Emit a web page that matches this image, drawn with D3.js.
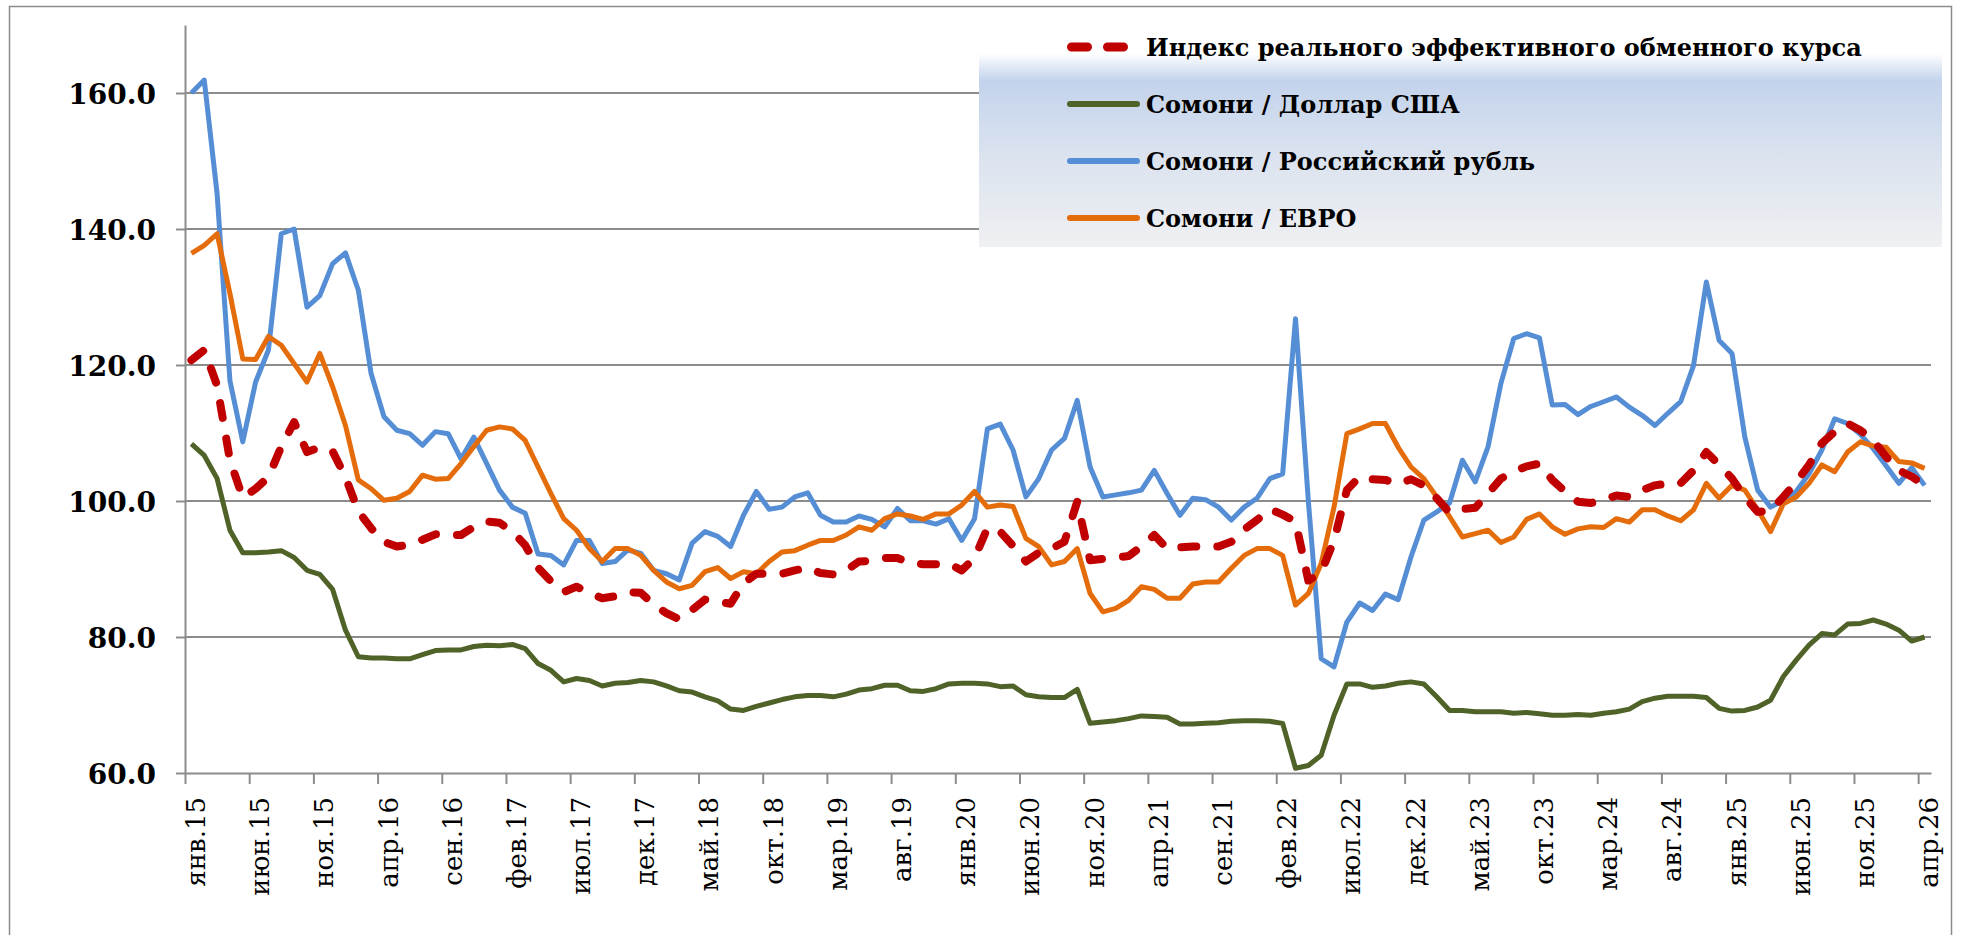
<!DOCTYPE html>
<html>
<head>
<meta charset="utf-8">
<script src="https://cdn.jsdelivr.net/npm/d3@7"></script>
<style>
  body { margin: 0; background: #fff; }
  svg { display: block; }
</style>
</head>
<body>
<svg id="chart"></svg>
<script>
// monthly data, Jan 2015 .. Apr 2026 (136 months)
const tickLabels = ["янв.15", "июн.15", "ноя.15", "апр.16", "сен.16", "фев.17", "июл.17", "дек.17",
    "май.18", "окт.18", "мар.19", "авг.19", "янв.20", "июн.20", "ноя.20", "апр.21", "сен.21",
    "фев.22", "июл.22", "дек.22", "май.23", "окт.23", "мар.24", "авг.24", "янв.25", "июн.25",
    "ноя.25", "апр.26"];

const reer = [
    120.7, 122.2, 117.0, 106.0, 100.5, 101.8, 103.5, 108.0, 111.6, 107.2,
    107.9, 107.3, 103.5, 98.5, 96.0, 94.0, 93.3, 93.6, 94.3, 95.1,
    95.0, 95.0, 96.2, 97.0, 96.8, 95.5, 93.5, 90.2, 88.2, 86.6,
    87.4, 86.5, 85.7, 86.0, 86.6, 86.5, 84.8, 83.5, 82.6, 84.0,
    85.5, 85.2, 84.9, 87.9, 89.3, 89.3, 89.3, 89.8, 90.2, 89.4,
    89.2, 89.8, 91.1, 91.2, 91.6, 91.6, 90.9, 90.7, 90.7, 90.8,
    89.8, 91.6, 96.0, 95.5, 93.4, 91.1, 92.4, 93.0, 94.0, 99.9,
    91.3, 91.5, 91.7, 91.9, 93.3, 95.0, 93.0, 93.2, 93.3, 93.3,
    93.3, 94.0, 95.8, 97.2, 98.8, 98.0, 97.0, 88.3, 89.5, 94.2,
    101.6, 103.6, 103.2, 103.1, 102.5, 103.2, 102.3, 100.4, 98.3, 98.8,
    99.0, 101.1, 103.3, 104.3, 105.1, 105.5, 103.1, 101.4, 99.9, 99.7,
    100.2, 100.8, 100.6, 101.6, 102.3, 102.6, 102.6, 104.5, 107.2, 105.3,
    103.3, 100.6, 98.4, 98.6, 100.6, 102.8, 105.3, 108.5, 110.2, 111.4,
    110.4, 108.9, 106.5, 104.5, 103.6, 102.3
];

const usd = [
    108.4, 106.7, 103.3, 95.7, 92.4, 92.4, 92.5, 92.7, 91.7, 89.8,
    89.2, 87.0, 81.0, 77.1, 76.9, 76.9, 76.8, 76.8, 77.4, 78.0,
    78.1, 78.1, 78.6, 78.8, 78.7, 78.9, 78.3, 76.1, 75.1, 73.4,
    73.9, 73.6, 72.8, 73.2, 73.3, 73.6, 73.4, 72.8, 72.1, 71.9,
    71.2, 70.6, 69.4, 69.2, 69.8, 70.3, 70.8, 71.2, 71.4, 71.4,
    71.2, 71.6, 72.2, 72.4, 72.9, 72.9, 72.1, 72.0, 72.4, 73.1,
    73.2, 73.2, 73.1, 72.7, 72.8, 71.5, 71.2, 71.1, 71.1, 72.3,
    67.3, 67.5, 67.7, 68.0, 68.4, 68.3, 68.2, 67.2, 67.2, 67.3,
    67.4, 67.6, 67.7, 67.7, 67.6, 67.3, 60.7, 61.1, 62.6, 68.5,
    73.1, 73.1, 72.6, 72.8, 73.2, 73.4, 73.1, 71.2, 69.2, 69.2,
    69.0, 69.0, 69.0, 68.8, 68.9, 68.7, 68.5, 68.5, 68.6, 68.5,
    68.8, 69.0, 69.4, 70.5, 71.0, 71.3, 71.3, 71.3, 71.1, 69.5,
    69.1, 69.2, 69.7, 70.7, 74.2, 76.6, 78.8, 80.5, 80.3, 81.9,
    82.0, 82.5, 81.9, 81.0, 79.4, 80.0
];

const rub = [
    160.0, 161.9, 145.2, 117.7, 108.7, 117.5, 122.2, 139.3, 140.0, 128.5,
    130.2, 134.9, 136.5, 131.0, 118.7, 112.4, 110.4, 109.9, 108.2, 110.2,
    109.9, 106.2, 109.4, 105.5, 101.6, 99.1, 98.2, 92.2, 92.0, 90.6,
    94.2, 94.2, 90.8, 91.1, 92.8, 92.3, 89.8, 89.3, 88.4, 93.8,
    95.5, 94.8, 93.3, 97.9, 101.4, 98.8, 99.1, 100.6, 101.2, 97.9,
    96.9, 96.9, 97.8, 97.3, 96.2, 98.9, 97.1, 97.1, 96.6, 97.4,
    94.2, 97.4, 110.6, 111.3, 107.5, 100.6, 103.3, 107.5, 109.2, 114.8,
    105.0, 100.6, 100.9, 101.2, 101.6, 104.5, 101.1, 97.9, 100.4, 100.2,
    99.1, 97.2, 99.1, 100.4, 103.3, 104.0, 126.8, 100.0, 76.8, 75.6,
    82.2, 85.0, 83.9, 86.3, 85.5, 91.8, 97.2, 98.4, 99.7, 106.0,
    102.8, 108.0, 117.3, 123.9, 124.6, 124.0, 114.1, 114.2, 112.7, 113.9,
    114.6, 115.3, 113.8, 112.6, 111.1, 112.9, 114.6, 119.9, 132.2, 123.6,
    121.7, 109.4, 101.6, 99.1, 100.1, 101.4, 104.0, 107.5, 112.1, 111.4,
    109.8, 107.7, 105.2, 102.6, 104.9, 102.3
];

const eur = [
    136.4, 137.6, 139.3, 130.5, 120.9, 120.8, 124.2, 122.9, 120.2, 117.5,
    121.7, 116.8, 111.1, 103.1, 101.8, 100.1, 100.4, 101.4, 103.8, 103.2,
    103.3, 105.5, 108.0, 110.4, 110.9, 110.6, 108.9, 105.0, 101.1, 97.4,
    95.7, 93.0, 91.1, 93.0, 93.0, 92.0, 89.8, 88.1, 87.1, 87.6,
    89.6, 90.2, 88.6, 89.6, 89.3, 91.1, 92.5, 92.7, 93.5, 94.2,
    94.2, 95.0, 96.2, 95.7, 97.4, 98.1, 97.8, 97.3, 98.1, 98.1,
    99.4, 101.4, 99.1, 99.4, 99.2, 94.5, 93.3, 90.6, 91.1, 93.0,
    86.4, 83.7, 84.2, 85.4, 87.4, 87.0, 85.7, 85.7, 87.8, 88.1,
    88.1, 90.1, 92.0, 93.0, 93.0, 92.0, 84.7, 86.4, 90.8, 99.1,
    109.9, 110.6, 111.4, 111.4, 107.9, 105.0, 103.3, 100.6, 97.7, 94.7,
    95.2, 95.7, 93.9, 94.7, 97.3, 98.1, 96.2, 95.1, 95.9, 96.2,
    96.1, 97.4, 96.9, 98.7, 98.7, 97.8, 97.1, 98.7, 102.6, 100.4,
    102.3, 101.6, 98.7, 95.5, 99.6, 100.6, 102.6, 105.3, 104.3, 107.2,
    108.7, 108.1, 107.9, 105.8, 105.6, 104.8
];

const seriesNames = [
    "Индекс реального эффективного обменного курса",
    "Сомони / Доллар США",
    "Сомони / Российский рубль",
    "Сомони / ЕВРО"
];

const width = 1963;
const height = 935;
const margin = { left: 185, right: 32, top: 25, bottom: 162 };

const svg = d3.select("#chart")
    .attr("width", width)
    .attr("height", height);

const n = usd.length;
const x = d3.scaleBand()
    .domain(d3.range(n))
    .range([margin.left, width - margin.right]);
const xEdge = d3.scaleLinear()
    .domain([0, n])
    .range([margin.left, width - margin.right]);
const y = d3.scaleLinear()
    .domain([60, 170])
    .range([height - margin.bottom, margin.top]);

const gridColor = "#8c8c8c";

// outer frame
svg.append("rect")
    .attr("x", 9.5)
    .attr("y", 6.5)
    .attr("width", 1942)
    .attr("height", 1000)
    .attr("fill", "none")
    .attr("stroke", gridColor)
    .attr("stroke-width", 1.5);

// gridlines
svg.append("g")
    .selectAll("line")
    .data([80, 100, 120, 140, 160])
    .join("line")
    .attr("x1", margin.left)
    .attr("x2", width - margin.right)
    .attr("y1", (d) => y(d))
    .attr("y2", (d) => y(d))
    .attr("stroke", gridColor)
    .attr("stroke-width", 2);

// y axis
const yAxis = svg.append("g")
    .attr("transform", `translate(${margin.left},0)`)
    .call(d3.axisLeft(y)
        .tickValues([60, 80, 100, 120, 140, 160])
        .tickSize(9)
        .tickSizeOuter(0)
        .tickPadding(20)
        .tickFormat(d3.format(".1f")));
yAxis.select(".domain").attr("stroke", gridColor).attr("stroke-width", 2);
yAxis.selectAll(".tick line").attr("stroke", gridColor).attr("stroke-width", 2);
yAxis.selectAll(".tick text")
    .attr("font-family", "'DejaVu Serif', serif")
    .attr("font-weight", "bold")
    .attr("font-size", 28)
    .attr("fill", "#000")
    .attr("dy", "0.36em");

// x axis: tick marks on month boundaries every 5 months
const xAxis = svg.append("g")
    .attr("transform", `translate(0,${y(60)})`)
    .call(d3.axisBottom(xEdge)
        .tickValues(d3.range(0, n, 5))
        .tickSize(11)
        .tickSizeOuter(0)
        .tickFormat(""));
xAxis.select(".domain").attr("stroke", gridColor).attr("stroke-width", 2);
xAxis.selectAll(".tick line").attr("stroke", gridColor).attr("stroke-width", 2);

svg.append("g")
    .selectAll("text")
    .data(tickLabels)
    .join("text")
    .attr("transform", (d, i) => `translate(${x(i * 5) + x.bandwidth() / 2},${y(60) + 24}) rotate(-90)`)
    .attr("text-anchor", "end")
    .attr("dy", "0.52em")
    .attr("font-family", "'DejaVu Serif', serif")
    .attr("font-size", 26)
    .attr("fill", "#000")
    .text((d) => d);

// lines
const line = d3.line()
    .x((d, i) => x(i) + x.bandwidth() / 2)
    .y((d) => y(d));

const series = [
    { values: usd, color: "#4f6228", width: 5, dash: null },
    { values: rub, color: "#558ed5", width: 5, dash: null },
    { values: eur, color: "#e46c0a", width: 5, dash: null },
    { values: reer, color: "#c00000", width: 8, dash: "15 21" }
];

svg.append("g")
    .selectAll("path")
    .data(series)
    .join("path")
    .attr("d", (d) => line(d.values))
    .attr("fill", "none")
    .attr("stroke", (d) => d.color)
    .attr("stroke-width", (d) => d.width)
    .attr("stroke-linejoin", "round")
    .attr("stroke-linecap", (d) => (d.dash ? "round" : "butt"))
    .attr("stroke-dasharray", (d) => d.dash);

// legend
const defs = svg.append("defs");
const grad = defs.append("linearGradient")
    .attr("id", "legendFill")
    .attr("x1", 0).attr("y1", 0)
    .attr("x2", 0).attr("y2", 1);
grad.append("stop").attr("offset", "0%").attr("stop-color", "#ffffff");
grad.append("stop").attr("offset", "14%").attr("stop-color", "#ffffff");
grad.append("stop").attr("offset", "26%").attr("stop-color", "#c3d3ec");
grad.append("stop").attr("offset", "60%").attr("stop-color", "#dbe3ef");
grad.append("stop").attr("offset", "100%").attr("stop-color", "#eff0f2");

const legend = svg.append("g");
legend.append("rect")
    .attr("x", 979)
    .attr("y", 22)
    .attr("width", 963)
    .attr("height", 225)
    .attr("fill", "url(#legendFill)");

const legendItems = [
    { name: seriesNames[0], color: "#c00000", dash: true },
    { name: seriesNames[1], color: "#4f6228", dash: false },
    { name: seriesNames[2], color: "#558ed5", dash: false },
    { name: seriesNames[3], color: "#e46c0a", dash: false }
];

const item = legend.selectAll("g.item")
    .data(legendItems)
    .join("g")
    .attr("class", "item")
    .attr("transform", (d, i) => `translate(0,${47 + i * 57})`);

item.append("line")
    .attr("x1", (d) => (d.dash ? 1071.5 : 1070))
    .attr("x2", (d) => (d.dash ? 1124 : 1137))
    .attr("y1", 0)
    .attr("y2", 0)
    .attr("stroke", (d) => d.color)
    .attr("stroke-width", (d) => (d.dash ? 9 : 6))
    .attr("stroke-linecap", "round")
    .attr("stroke-dasharray", (d) => (d.dash ? "16 20" : null));

item.append("text")
    .attr("x", 1146)
    .attr("y", 0)
    .attr("dy", "0.36em")
    .attr("font-family", "'DejaVu Serif', serif")
    .attr("font-weight", "bold")
    .attr("font-size", 24)
    .attr("fill", "#000")
    .text((d) => d.name);
</script>
</body>
</html>
